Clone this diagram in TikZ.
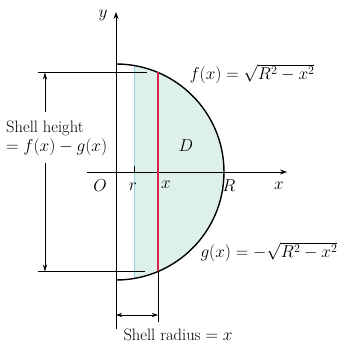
\documentclass[tikz,border=0pt]{standalone}
\usetikzlibrary{arrows.meta}
\begin{document}
\begin{tikzpicture}[x=1pt,y=1pt,
  lbl/.style={font=\fontsize{16.5}{19}\selectfont, inner sep=1pt},
  thinline/.style={line width=0.6pt},
  dim/.style={line width=0.6pt,{Stealth[length=6pt,width=4pt]}-{Stealth[length=6pt,width=4pt]}},
  axis/.style={line width=0.6pt,-{Stealth[length=7pt,width=5pt]}}]
\definecolor{shadecol}{RGB}{222,240,234}
\definecolor{redline}{RGB}{214,40,70}
\definecolor{blueedge}{RGB}{150,205,225}
\useasboundingbox (-116,-172) rectangle (221,172);
\fill[white] (-116,-172) rectangle (221,172);
% shaded region
\begin{scope}
\clip (0,-108) arc[start angle=-90,end angle=90,radius=108] -- cycle;
\fill[shadecol] (18,-110) rectangle (110,110);
\end{scope}
\draw[blueedge,line width=0.7pt] (18,{-sqrt(108*108-18*18)}) -- (18,{sqrt(108*108-18*18)});
% axes
\coordinate (xs) at (-29,0); \coordinate (xe) at (171,0);
\coordinate (ys) at (0,-157); \coordinate (ye) at (0,160);
\draw[axis] (xs) -- (xe);
\draw[axis] (ys) -- (ye);
% tick at r
\draw[thinline] (18,0) -- (18,6);
% arc
\draw[line width=1.4pt] (0,108) arc[start angle=90,end angle=-90,radius=108];
% red line
\coordinate (st) at (42,99.5); \coordinate (sb) at (42,-99.5);
\draw[redline,line width=1.2pt] (st) -- (sb);
% extension lines
\coordinate (et1) at (-78,99.5); \coordinate (et2) at (31,99.5);
\coordinate (eb1) at (-78,-99.5); \coordinate (eb2) at (29,-99.5);
\draw[thinline] (et1) -- (et2);
\draw[thinline] (eb1) -- (eb2);
\coordinate (xl) at (42,-150);
\draw[thinline] (sb) -- (xl);
% shell height dimension
\coordinate (h1) at (-71,99.5); \coordinate (h2) at (-71,60);
\coordinate (h3) at (-71,9); \coordinate (h4) at (-71,-99.5);
\draw[line width=0.6pt,-{Stealth[length=7pt,width=4pt]}] (h2) -- (h1);
\draw[line width=0.6pt,-{Stealth[length=7pt,width=4pt]}] (h3) -- (h4);
\node[lbl,align=left,anchor=west] (sh) at (-111,34) {Shell height\\$=f(x)-g(x)$};
% shell radius dimension
\coordinate (r1) at (0,-143); \coordinate (r2) at (42,-143);
\draw[dim] (r1) -- (r2);
\node[lbl] (sr) at (62,-163) {Shell radius $=x$};
% labels
\node[lbl] (ylab) at (-13,157) {$y$};
\node[lbl] (xlab) at (163,-14) {$x$};
\node[lbl] (O) at (-16,-14) {$O$};
\node[lbl] (rl) at (17,-15) {$r$};
\node[lbl] (xx) at (50,-13) {$x$};
\node[lbl] (Rl) at (113,-14) {$R$};
\node[lbl] (D) at (70,26) {$D$};
\node[lbl] (f) at (136,98) {$f(x)=\sqrt{R^2-x^2}$};
\node[lbl] (g) at (153,-80) {$g(x)=-\sqrt{R^2-x^2}$};
\end{tikzpicture}
\end{document}
